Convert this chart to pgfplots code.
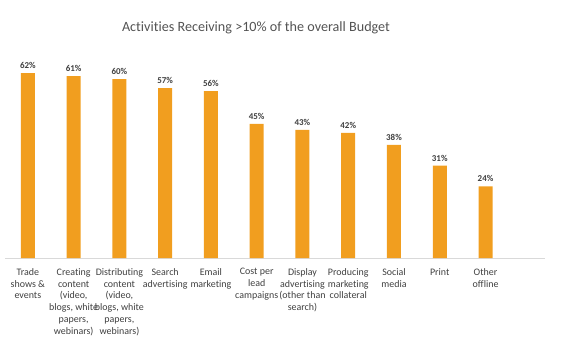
\documentclass[border=0pt]{standalone}
\usepackage{pgfplots}
\pgfplotsset{compat=1.18}
\usepackage{fontspec}
\setmainfont[Ligatures={NoCommon}]{Carlito}
\definecolor{barorange}{HTML}{F19E1F}
\definecolor{txt}{HTML}{404040}
\definecolor{axgray}{HTML}{D9D9D9}
\begin{document}
\begin{tikzpicture}[x=1bp,y=1bp]
\path[use as bounding box] (0,0) rectangle (561,352);
\node[font=\fontsize{14.2}{17}\selectfont, text=txt!90] at (256,324.5) {Activities Receiving >10\% of the overall Budget};
\begin{axis}[
  at={(5bp,94bp)}, anchor=south west,
  scale only axis, width=540bp, height=208.6bp,
  xmin=-0.5, xmax=11.3, ymin=0, ymax=70,
  axis y line=none,
  axis x line*=bottom,
  x axis line style={axgray, line width=0.8pt, -},
  xtick={0,...,10}, major tick length=0pt,
  xticklabels={{Trade\\shows \&\\events},{Creating\\content\\(video,\\blogs, white\\papers,\\webinars)},{Distributing\\content\\(video,\\blogs, white\\papers,\\webinars)},{Search\\advertising},{Email\\marketing},{Cost per\\lead\\campaigns},{Display\\advertising\\(other than\\search)},{Producing\\marketing\\collateral},{Social\\media},{Print},{Other\\offline}},
  xticklabel style={align=center, font=\fontsize{10}{11.8}\selectfont, text=txt, anchor=north, yshift=-7bp},
  ybar, bar width=14bp,
  nodes near coords={\pgfmathprintnumber{\pgfplotspointmeta}\%},
  nodes near coords style={font=\fontsize{9}{10}\selectfont\bfseries, text=txt, yshift=1bp, /pgf/number format/assume math mode=true},
  clip=false,
]
\addplot[fill=barorange, draw=none] coordinates {(0,62) (1,61) (2,60) (3,57) (4,56) (5,45) (6,43) (7,42) (8,38) (9,31) (10,24)};
\end{axis}
\end{tikzpicture}
\end{document}
